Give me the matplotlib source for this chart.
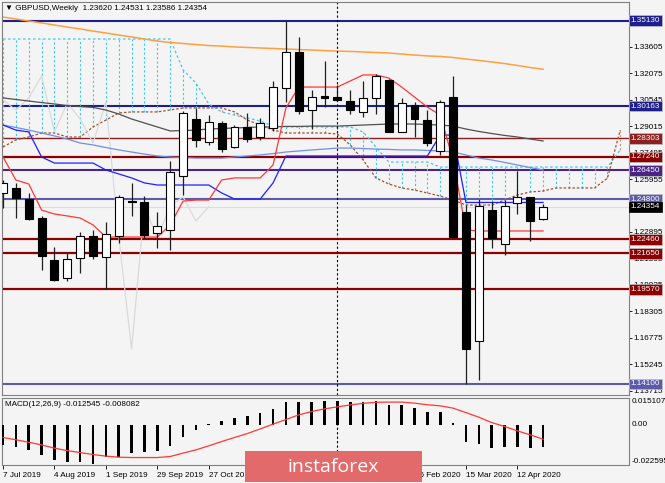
import matplotlib
matplotlib.use('Agg')
import matplotlib.pyplot as plt
import matplotlib.transforms as mtransforms

plt.rcParams['font.family'] = ['Liberation Sans', 'DejaVu Sans']

BG = '#F4F4F4'
FS = 5.9

# weekly GBPUSD candles, week of 7 Jul 2019 .. 26 Apr 2020
opens = [1.2515, 1.2544, 1.2480, 1.2370, 1.2127, 1.2023, 1.2139, 1.2266, 1.2144, 1.2266,
         1.2468, 1.2463, 1.2283, 1.2301, 1.2613, 1.2943, 1.2810, 1.2920, 1.2781, 1.2897,
         1.2839, 1.2891, 1.3122, 1.3331, 1.2995, 1.3076, 1.3070, 1.3047, 1.2984, 1.3065,
         1.3169, 1.2868, 1.3024, 1.2937, 1.2758, 1.3070, 1.2405, 1.1658, 1.2416, 1.2220,
         1.2457, 1.2492, 1.23620]
highs = [1.2590, 1.2573, 1.2515, 1.2382, 1.2202, 1.2168, 1.2289, 1.2301, 1.2347, 1.2503,
         1.2573, 1.2497, 1.2405, 1.2700, 1.2989, 1.3007, 1.2966, 1.2931, 1.2908, 1.2978,
         1.2949, 1.3163, 1.3510, 1.3418, 1.3111, 1.3279, 1.3140, 1.3111, 1.3163, 1.3203,
         1.3174, 1.3065, 1.3041, 1.2995, 1.3053, 1.3192, 1.2445, 1.2480, 1.2468, 1.2474,
         1.2642, 1.2492, 1.24531]
lows = [1.2428, 1.2370, 1.2360, 1.2069, 1.2006, 1.2006, 1.2052, 1.2133, 1.1957, 1.2225,
        1.2382, 1.2254, 1.2196, 1.2185, 1.2503, 1.2781, 1.2793, 1.2752, 1.2775, 1.2810,
        1.2822, 1.2874, 1.3041, 1.2972, 1.2885, 1.3012, 1.3047, 1.2972, 1.2955, 1.2972,
        1.2865, 1.2865, 1.2839, 1.2787, 1.2735, 1.2254, 1.1410, 1.1433, 1.2196, 1.2156,
        1.2393, 1.2237, 1.23586]
closes = [1.2573, 1.2486, 1.2364, 1.2150, 1.2011, 1.2133, 1.2266, 1.2150, 1.2278, 1.2492,
          1.2460, 1.2272, 1.2324, 1.2636, 1.2978, 1.2822, 1.2926, 1.2769, 1.2897, 1.2827,
          1.2920, 1.3128, 1.3331, 1.2989, 1.3070, 1.3067, 1.3053, 1.2995, 1.3065, 1.3192,
          1.2868, 1.3036, 1.2943, 1.2804, 1.3041, 1.2260, 1.1612, 1.2440, 1.2254, 1.2440,
          1.2492, 1.2353, 1.24354]

# moving averages
ma_orange = [1.3533, 1.3522, 1.3510, 1.3499, 1.3487, 1.3475, 1.3464, 1.3452, 1.3441, 1.3429,
             1.3418, 1.3406, 1.3394, 1.3386, 1.3380, 1.3374, 1.3368, 1.3365, 1.3360, 1.3357,
             1.3354, 1.3351, 1.3348, 1.3345, 1.3342, 1.3339, 1.3336, 1.3334, 1.3331, 1.3328,
             1.3325, 1.3319, 1.3313, 1.3308, 1.3305, 1.3299, 1.3290, 1.3282, 1.3273, 1.3264,
             1.3253, 1.3241, 1.3231]
ma_gray = [1.3065, 1.3056, 1.3047, 1.3038, 1.3030, 1.3021, 1.3015, 1.3010, 1.2995, 1.2972,
           1.2943, 1.2920, 1.2897, 1.2874, 1.2876, 1.2879, 1.2885, 1.2888, 1.2891, 1.2894,
           1.2897, 1.2897, 1.2900, 1.2900, 1.2902, 1.2902, 1.2902, 1.2905, 1.2908, 1.2911,
           1.2914, 1.2914, 1.2914, 1.2911, 1.2908, 1.2902, 1.2885, 1.2871, 1.2859, 1.2848,
           1.2839, 1.2827, 1.2816]
ma_blue = [1.2908, 1.2894, 1.2879, 1.2862, 1.2845, 1.2827, 1.2804, 1.2793, 1.2778, 1.2764,
           1.2752, 1.2740, 1.2729, 1.2723, 1.2720, 1.2717, 1.2717, 1.2717, 1.2723, 1.2729,
           1.2735, 1.2743, 1.2752, 1.2758, 1.2764, 1.2769, 1.2775, 1.2775, 1.2772, 1.2769,
           1.2767, 1.2764, 1.2764, 1.2761, 1.2758, 1.2752, 1.2735, 1.2717, 1.2706, 1.2692,
           1.2677, 1.2662, 1.2648]

# ichimoku
tenkan = [1.2723, 1.2590, 1.2567, 1.2416, 1.2393, 1.2382, 1.2370, 1.2330, 1.2260, 1.2260,
          1.2260, 1.2260, 1.2260, 1.2330, 1.2468, 1.2474, 1.2474, 1.2590, 1.2602, 1.2602,
          1.2602, 1.2677, 1.3007, 1.3128, 1.3128, 1.3128, 1.3128, 1.3163, 1.3198, 1.3198,
          1.3180, 1.3128, 1.3070, 1.3012, 1.2966, 1.2706, 1.2301, 1.2295, 1.2295, 1.2295,
          1.2295, 1.2295, 1.2295]
kijun = [1.2908, 1.2879, 1.2868, 1.2723, 1.2688, 1.2688, 1.2688, 1.2688, 1.2648, 1.2625,
         1.2602, 1.2573, 1.2561, 1.2561, 1.2561, 1.2561, 1.2561, 1.2515, 1.2480, 1.2480,
         1.2480, 1.2573, 1.2729, 1.2729, 1.2729, 1.2729, 1.2729, 1.2729, 1.2729, 1.2729,
         1.2729, 1.2729, 1.2729, 1.2729, 1.2850, 1.2850, 1.2460, 1.2460, 1.2460, 1.2460,
         1.2460, 1.2460, 1.2460]
span_a = [1.2781, 1.2822, 1.2839, 1.2862, 1.2862, 1.2839, 1.2839, 1.2897, 1.2937, 1.2978,
          1.2984, 1.2984, 1.2984, 1.2995, 1.3007, 1.3007, 1.3007, 1.3007, 1.2984, 1.2937,
          1.2908, 1.2879, 1.2862, 1.2862, 1.2862, 1.2862, 1.2856, 1.2793, 1.2706, 1.2602,
          1.2567, 1.2544, 1.2532, 1.2515, 1.2497, 1.2474, 1.2445, 1.2445, 1.2445, 1.2474,
          1.2503, 1.2521, 1.2526, 1.2544, 1.2544, 1.2544, 1.2544, 1.2600, 1.2879]
span_b = [1.3406, 1.3406, 1.3406, 1.3406, 1.3406, 1.3406, 1.3406, 1.3406, 1.3406, 1.3406,
          1.3406, 1.3406, 1.3406, 1.3406, 1.3227, 1.3151, 1.3030, 1.2984, 1.2966, 1.2949,
          1.2931, 1.2902, 1.2897, 1.2897, 1.2897, 1.2897, 1.2897, 1.2897, 1.2868, 1.2781,
          1.2694, 1.2694, 1.2694, 1.2694, 1.2665, 1.2665, 1.2665, 1.2665, 1.2665, 1.2665,
          1.2665, 1.2665, 1.2665, 1.2665, 1.2665, 1.2665, 1.2665, 1.2665, 1.2764]

# MACD(12,26,9)
macd_hist = [-0.0113, -0.0126, -0.0141, -0.0171, -0.0197, -0.0208, -0.0210, -0.0218, -0.0180, -0.0182,
             -0.0156, -0.0154, -0.0146, -0.0117, -0.0066, -0.0030, 0.0004, 0.0019, 0.0038, 0.0051,
             0.0064, 0.0090, 0.0128, 0.0128, 0.0131, 0.0135, 0.0135, 0.0128, 0.0128, 0.0135,
             0.0113, 0.0109, 0.0094, 0.0071, 0.0071, 0.0008, -0.0094, -0.0109, -0.0128, -0.0122,
             -0.0124, -0.0131, -0.012545]
macd_signal = [-0.0071, -0.0084, -0.0098, -0.0113, -0.0131, -0.0145, -0.0156, -0.0167, -0.0176, -0.0182,
               -0.0184, -0.0184, -0.0184, -0.0178, -0.0159, -0.0141, -0.0118, -0.0094, -0.0071, -0.0049,
               -0.0023, 0.0004, 0.0030, 0.0056, 0.0075, 0.0090, 0.0101, 0.0112, 0.0121, 0.0127,
               0.0128, 0.0128, 0.0122, 0.0113, 0.0107, 0.0094, 0.0069, 0.0043, 0.0013, -0.0009,
               -0.0034, -0.0056, -0.008082]

# horizontal levels drawn on the chart
level_prices = [1.35130, 1.30163, 1.28303, 1.27240, 1.26450, 1.24800, 1.22460, 1.21650, 1.19570, 1.14100]
level_colors = ['#1E1E8C', '#1E1E8C', '#8B2020', '#8B0000', '#4B2585', '#5B5BAA',
                '#8B0000', '#8B0000', '#8B0000', '#5B5BAA']
level_widths = [1.5, 1.5, 1.0, 1.6, 1.5, 1.5, 1.6, 1.6, 1.6, 1.5]

price_ticks = [1.13715, 1.15245, 1.16775, 1.18305, 1.19835, 1.21365, 1.22895, 1.24425,
               1.25955, 1.27485, 1.29015, 1.30545, 1.32075, 1.33605]
date_pos = [0, 4, 8, 12, 16, 20, 24, 28, 32, 36, 40]
date_labels = ['7 Jul 2019', '4 Aug 2019', '1 Sep 2019', '29 Sep 2019', '27 Oct 2019',
               '24 Nov 2019', '22 Dec 2019', '19 Jan 2020', '16 Feb 2020', '15 Mar 2020',
               '12 Apr 2020']

n = len(closes)
idx = list(range(n))
cidx = list(range(len(span_a)))

fig = plt.figure(figsize=(6.65, 4.83), dpi=100)
fig.patch.set_facecolor(BG)
ax = fig.add_axes([2 / 665, 88 / 483, 627 / 665, 393 / 483])
ax2 = fig.add_axes([2 / 665, 18 / 483, 627 / 665, 67 / 483])
for a in (ax, ax2):
    a.set_facecolor(BG)
    a.set_xlim(-0.08, 48.68)
    for s in a.spines.values():
        s.set_color('#808080')
        s.set_linewidth(0.8)

ax.set_ylim(1.13458, 1.36201)

# levels (behind the candles)
for p, c, w in zip(level_prices, level_colors, level_widths):
    ax.axhline(p, color=c, lw=w, zorder=1)
ax.axhline(closes[-1], color='#DCDCE8', lw=0.8, zorder=1)

# ichimoku cloud hatch
for i in cidx:
    lo, hi = sorted((span_a[i], span_b[i]))
    col = '#3CC8F0' if span_b[i] > span_a[i] else '#C89080'
    ax.vlines(i, lo, hi, colors=col, linestyles=(0, (2, 2)), lw=0.8, zorder=1.5)
ax.plot(cidx, span_b, color='#3CC8F0', lw=0.9, ls=(0, (2, 2)), zorder=1.6)
ax.plot(cidx, span_a, color='#A0522D', lw=0.9, ls=(0, (2, 1.5)), zorder=1.6)

# chikou span: close shifted back 26 weeks
ax.plot(idx[:n - 26], closes[26:], color='#DADADA', lw=0.9, zorder=1.7)

ax.plot(idx, ma_orange, color='#FFA040', lw=1.1, zorder=1.8)
ax.plot(idx, ma_gray, color='#505050', lw=0.9, zorder=1.8)
ax.plot(idx, ma_blue, color='#6F8FE8', lw=0.9, zorder=1.8)
ax.plot(idx, kijun, color='#2020FF', lw=0.9, zorder=1.9)
ax.plot(idx, tenkan, color='#FF3838', lw=0.9, zorder=1.9)

# candles
for i in idx:
    o, h, l, c = opens[i], highs[i], lows[i], closes[i]
    ax.vlines(i, l, h, colors='#202020', lw=0.9, zorder=3)
    bottom = min(o, c)
    height = max(abs(c - o), 0.0002)
    face = 'white' if c >= o else 'black'
    ax.bar(i, height, width=0.62, bottom=bottom, color=face,
           edgecolor='black', linewidth=0.8, zorder=4)

ax.axvline(26, color='black', lw=0.8, ls=(0, (2, 2)), zorder=2)

# right price scale
ax.yaxis.tick_right()
ax.set_yticks(price_ticks)
ax.set_yticklabels(['%.5f' % t for t in price_ticks])
ax.tick_params(axis='y', direction='out', length=2, width=0.6, labelsize=FS, pad=1.5)
ax.set_xticks([])

trans = mtransforms.blended_transform_factory(ax.transAxes, ax.transData)
for p, c in zip(level_prices, level_colors):
    ax.text(1.003, p, '%.5f' % p, transform=trans, color='white', fontsize=FS,
            ha='left', va='center', clip_on=False, zorder=10,
            bbox=dict(boxstyle='square,pad=0.2', fc=c, ec='#C0C0C0', lw=0.5))
ax.text(1.003, closes[-1], '%.5f' % closes[-1], transform=trans, color='white', fontsize=FS,
        ha='left', va='center', clip_on=False, zorder=11,
        bbox=dict(boxstyle='square,pad=0.2', fc='black', ec='black', lw=0.5))

ax.text(3 / 627, 1 - 6 / 393, '\u25BC GBPUSD,Weekly  %.5f %.5f %.5f %.5f'
        % (opens[-1], highs[-1], lows[-1], closes[-1]),
        transform=ax.transAxes, fontsize=FS, ha='left', va='center', zorder=12)

# MACD panel
ax2.set_ylim(-0.022595, 0.015107)
ax2.bar(idx, macd_hist, width=0.2, color='black', zorder=3)
ax2.plot(idx, macd_signal, color='#FF3838', lw=0.9, zorder=4)
ax2.axvline(26, color='black', lw=0.8, ls=(0, (2, 2)), zorder=2)
ax2.set_yticks([])
ax2.set_xticks(date_pos)
ax2.set_xticklabels(date_labels, ha='left')
ax2.tick_params(axis='x', direction='out', length=3, width=0.6, labelsize=FS, pad=2)
ax2.text(3 / 627, 0.9, 'MACD(12,26,9) -0.012545 -0.008082', transform=ax2.transAxes,
         fontsize=FS, ha='left', va='center')
mtrans = mtransforms.blended_transform_factory(ax2.transAxes, ax2.transData)
for v, lab, va in [(0.015107, '0.015107', 'top'), (0.0, '0.00', 'center'),
                   (-0.022595, '-0.022595', 'bottom')]:
    ax2.text(1.004, v, lab, transform=mtrans, fontsize=FS, ha='left', va=va, clip_on=False)

# watermark
wm = fig.add_axes([245 / 665, 1 / 483, 177 / 665, 31 / 483])
wm.set_facecolor('#E36A6A')
wm.set_xticks([])
wm.set_yticks([])
for s in wm.spines.values():
    s.set_visible(False)
wm.text(0.5, 0.5, 'instaforex', color='white', fontsize=14, family='Open Sans',
        ha='center', va='center', transform=wm.transAxes)

fig.savefig('out.png', dpi=100, facecolor=BG)
